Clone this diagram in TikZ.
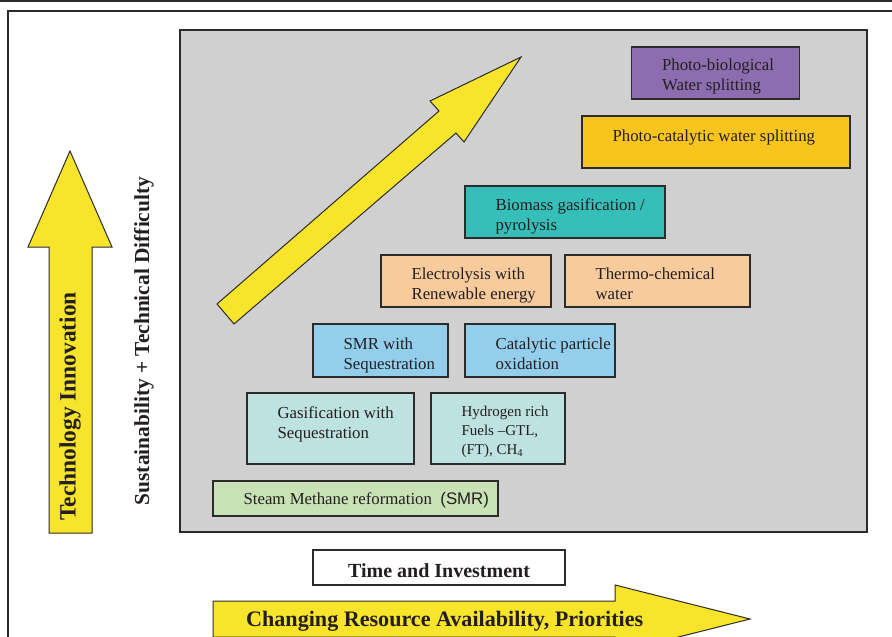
\documentclass[tikz,border=0pt]{standalone}
\usepackage{fontspec}
\setmainfont{Liberation Serif}
\newfontfamily\arialfont{Liberation Sans}
\definecolor{panelgray}{HTML}{D0D0D0}
\definecolor{linec}{HTML}{2B2B2B}
\definecolor{txtc}{HTML}{231F20}
\definecolor{cpurple}{HTML}{8C6EB0}
\definecolor{corange}{HTML}{F8C41E}
\definecolor{cteal}{HTML}{36BEB9}
\definecolor{cpeach}{HTML}{F8CB9D}
\definecolor{cblue}{HTML}{93CFEC}
\definecolor{clteal}{HTML}{BDE2DF}
\definecolor{cgreen}{HTML}{C8E1B5}
\definecolor{cyellow}{HTML}{F8E42A}
\begin{document}
\begin{tikzpicture}[x=1pt,y=-1pt,
  techbox/.style={draw=linec,line width=1.3pt,inner sep=0pt},
  boxtxt/.style={anchor=west,inner sep=0pt,align=left,text=txtc,font=\fontsize{16.8}{20}\selectfont},
  arrowshape/.style={fill=cyellow,draw=linec,line width=1pt,line join=miter},
  boldlbl/.style={inner sep=0pt,text=txtc,font=\bfseries}]
\useasboundingbox (0,0) rectangle (892,637);
\clip (0,0) rectangle (892,637);
% frame lines
\draw[linec,line width=2pt] (0,1) -- (892,1);
\draw[linec,line width=1.5pt] (892,11) -- (8,11) -- (8,640);
% gray panel
\node[draw=linec,line width=1.5pt,fill=panelgray,minimum width=687,minimum height=502,inner sep=0pt] (panel) at (523.5,281) {};
% diagonal arrow
\draw[arrowshape] (217,304) -- (439,111) -- (430,101) -- (521,57) -- (464,142) -- (456,133) -- (234,324) -- cycle;
% boxes
\node[techbox,fill=cpurple,minimum width=168,minimum height=52] (pb) at (715.5,73) {};
\node[boxtxt] (pbt) at ([xshift=31pt,yshift=-3pt]pb.west) {Photo-biological\\Water splitting};
\node[techbox,fill=corange,minimum width=268,minimum height=52] (pc) at (716,142) {};
\node[boxtxt] (pct) at ([xshift=31pt,yshift=5pt]pc.west) {Photo-catalytic water splitting};
\node[techbox,fill=cteal,minimum width=200,minimum height=52] (bm) at (565,212) {};
\node[boxtxt] (bmt) at ([xshift=31pt,yshift=-4pt]bm.west) {Biomass gasification /\\pyrolysis};
\node[techbox,fill=cpeach,minimum width=170,minimum height=52] (el) at (466,281) {};
\node[boxtxt] (elt) at ([xshift=31pt,yshift=-4pt]el.west) {Electrolysis with\\Renewable energy};
\node[techbox,fill=cpeach,minimum width=185,minimum height=52] (tc) at (657.5,281) {};
\node[boxtxt] (tct) at ([xshift=31pt,yshift=-3pt]tc.west) {Thermo-chemical\\water};
\node[techbox,fill=cblue,minimum width=135,minimum height=53] (smrs) at (380.5,350.5) {};
\node[boxtxt] (smrst) at ([xshift=31pt,yshift=-5pt]smrs.west) {SMR with\\Sequestration};
\node[techbox,fill=cblue,minimum width=150,minimum height=53] (cpo) at (540,350.5) {};
\node[boxtxt] (cpot) at ([xshift=31pt,yshift=-3pt]cpo.west) {Catalytic particle\\oxidation};
\node[techbox,fill=clteal,minimum width=167,minimum height=71] (gs) at (330.5,428.5) {};
\node[boxtxt] (gst) at ([xshift=31pt,yshift=4pt]gs.west) {Gasification with\\Sequestration};
\node[techbox,fill=clteal,minimum width=134,minimum height=71] (hr) at (498,428.5) {};
\node[boxtxt,font=\fontsize{15}{19}\selectfont] (hrt) at ([xshift=31pt,yshift=-3pt]hr.west) {Hydrogen rich\\Fuels \textendash GTL,\\(FT), CH\textsubscript{4}};
\node[techbox,fill=cgreen,minimum width=285,minimum height=35] (smr) at (355.5,498.5) {};
\node[boxtxt] (smrt) at ([xshift=31pt,yshift=-2pt]smr.west) {Steam Methane reformation\ \ {\arialfont (SMR)}};
% left vertical arrow
\draw[arrowshape] (49,533) -- (49,247) -- (28,247) -- (70,151) -- (112,247) -- (92,247) -- (92,533) -- cycle;
\node[boldlbl,rotate=90,font=\bfseries\fontsize{23.4}{25}\selectfont] (ti) at (70,406.5) {Technology Innovation};
\node[boldlbl,rotate=90,font=\bfseries\fontsize{21.4}{23}\selectfont] (st) at (144,341) {Sustainability + Technical Difficulty};
% time and investment
\node[draw=linec,line width=1.3pt,fill=white,minimum width=252,minimum height=35,inner sep=0pt] (tiv) at (439,567.5) {};
\node[boldlbl,font=\bfseries\fontsize{20}{22}\selectfont] (tivt) at (439,571) {Time and Investment};
% bottom arrow
\draw[arrowshape] (213,601) -- (615,601) -- (615,585) -- (750,619) -- (615,653) -- (615,637) -- (213,637) -- cycle;
\node[boldlbl,anchor=west,font=\bfseries\fontsize{22.1}{24}\selectfont] (cra) at (246,621) {Changing Resource Availability, Priorities};
\end{tikzpicture}
\end{document}
